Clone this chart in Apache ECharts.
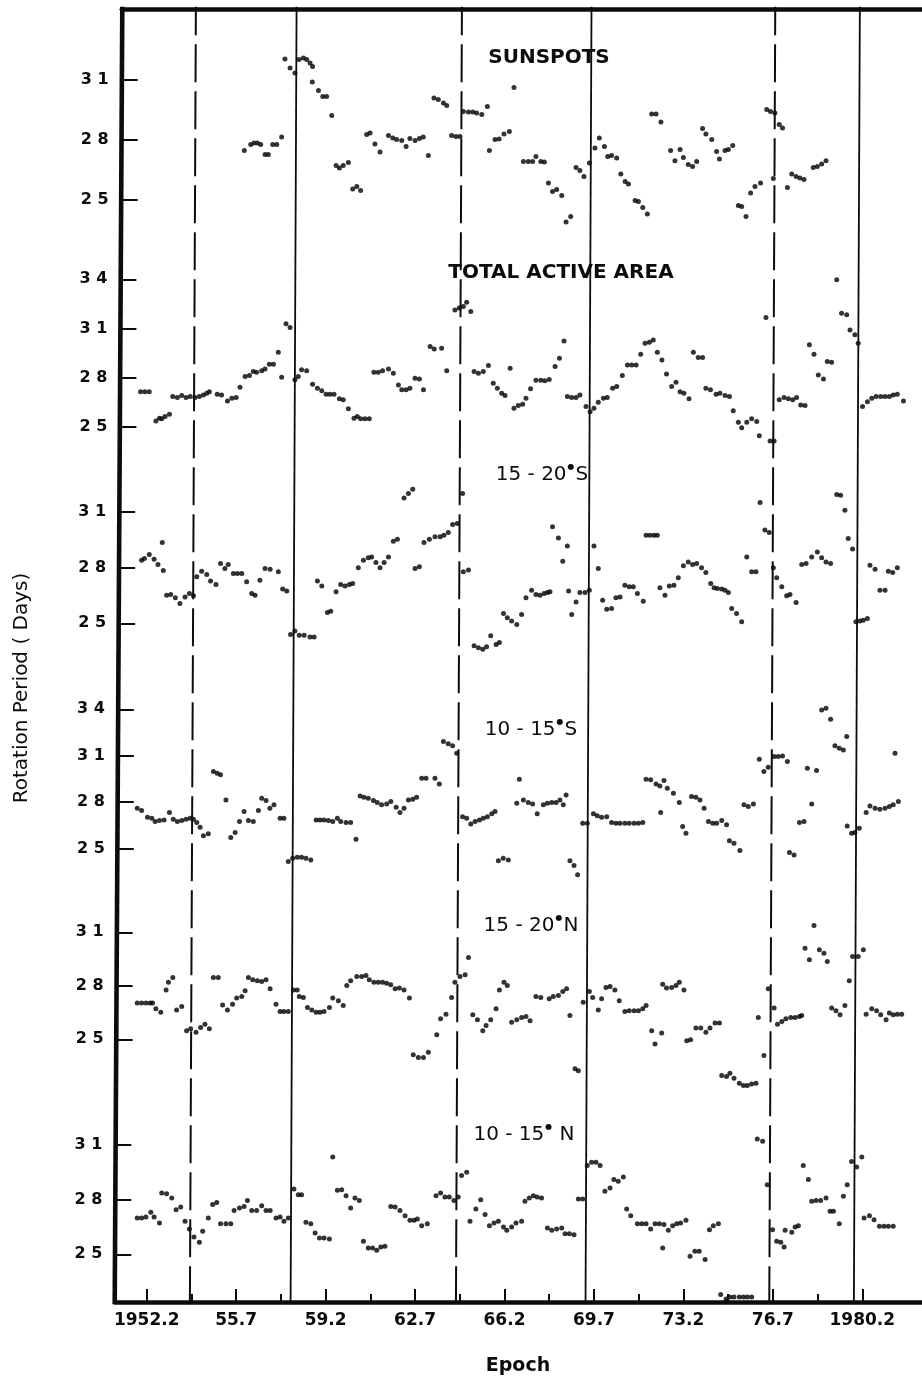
<!DOCTYPE html>
<html><head><meta charset="utf-8">
<script src="https://cdn.jsdelivr.net/npm/echarts@6/dist/echarts.min.js"></script>
<style>
html,body{margin:0;padding:0;overflow:hidden;background:#fff;width:922px;height:1379px}
#c{position:absolute;left:0;top:0;width:980px;height:1379px}
</style></head>
<body><div id="c"></div>
<script>
// ---------------- DATA (epoch year, rotation period in days) ----------------
const sunspots = [[1956.02,27.48],[1956.27,27.77],[1956.40,27.85],[1956.53,27.85],[1956.66,27.77],[1956.83,27.27],[1956.96,27.27],[1957.13,27.77],[1957.29,27.77],[1957.48,28.15],
[1957.61,32.05],[1957.81,31.60],[1958.00,31.35],[1958.16,32.02],[1958.33,32.10],[1958.46,32.02],[1958.59,31.85],[1958.69,31.68],[1958.68,30.90],[1958.92,30.47],[1959.09,30.18],[1959.24,30.18],[1959.44,29.22],
[1959.61,26.72],[1959.74,26.60],[1959.89,26.73],[1960.09,26.88],[1960.26,25.55],[1960.42,25.68],[1960.57,25.47],
[1960.81,28.27],[1960.94,28.35],[1961.13,27.80],[1961.33,27.40],[1961.66,28.23],[1961.83,28.10],[1961.98,28.02],[1962.18,27.97],[1962.35,27.68],[1962.50,28.07],[1962.70,27.97],[1962.87,28.07],[1963.02,28.15],[1963.22,27.23],
[1963.44,30.10],[1963.61,30.02],[1963.81,29.85],[1963.94,29.73],[1964.13,28.23],[1964.30,28.18],[1964.46,28.18],
[1964.59,29.43],[1964.79,29.40],[1964.96,29.40],[1965.11,29.35],[1965.31,29.27],[1965.53,29.67],
[1965.61,27.47],[1965.83,28.02],[1965.99,28.05],[1966.18,28.30],[1966.39,28.43],[1966.57,30.63],
[1966.94,26.93],[1967.13,26.93],[1967.30,26.93],[1967.43,27.18],[1967.62,26.93],[1967.76,26.90],
[1967.92,25.85],[1968.08,25.43],[1968.24,25.52],[1968.44,25.23],[1968.61,23.90],[1968.79,24.18],
[1969.00,26.63],[1969.15,26.47],[1969.31,26.18],[1969.52,26.85],[1969.74,27.60],[1969.91,28.10],[1970.11,27.68],[1970.24,27.18],[1970.39,27.23],[1970.59,27.10],[1970.75,26.30],[1970.92,25.93],[1971.05,25.80],[1971.31,24.97],[1971.44,24.93],[1971.61,24.63],[1971.79,24.30],
[1971.96,29.30],[1972.13,29.30],[1972.32,28.90],
[1972.70,27.47],[1972.87,26.96],[1973.07,27.52],[1973.20,27.13],[1973.39,26.77],[1973.56,26.68],[1973.72,26.93],
[1973.95,28.57],[1974.08,28.30],[1974.31,28.02],[1974.50,27.43],[1974.61,27.05],[1974.83,27.47],[1974.96,27.52],[1975.13,27.72],
[1975.35,24.73],[1975.48,24.68],[1975.65,24.18],[1975.83,25.35],[1976.00,25.68],[1976.22,25.85],
[1976.46,29.52],[1976.61,29.43],[1976.78,29.35],[1976.72,26.07],[1976.95,28.77],[1977.08,28.60],
[1977.27,25.63],[1977.44,26.30],[1977.61,26.18],[1977.76,26.10],[1977.92,26.02],
[1978.28,26.63],[1978.44,26.68],[1978.61,26.80],[1978.78,26.96]];

const totalActiveArea = [[1951.96,27.14],[1952.13,27.14],[1952.30,27.14],
[1952.56,25.35],[1952.70,25.52],[1952.79,25.48],[1952.92,25.62],[1953.09,25.76],
[1953.22,26.84],[1953.40,26.78],[1953.57,26.90],[1953.74,26.78],[1953.90,26.84],[1954.09,26.78],[1954.26,26.84],[1954.42,26.94],[1954.55,27.04],[1954.65,27.14],
[1954.96,26.98],[1955.13,26.94],[1955.36,26.57],[1955.53,26.74],[1955.70,26.78],[1955.85,27.41],
[1956.05,28.06],[1956.22,28.12],[1956.37,28.37],[1956.50,28.33],[1956.70,28.41],[1956.83,28.53],[1957.00,28.81],[1957.16,28.81],[1957.35,29.55],[1957.48,28.02],[1957.65,31.28],[1957.81,31.06],
[1958.00,27.86],[1958.13,28.06],[1958.26,28.47],[1958.46,28.41],
[1958.69,27.59],[1958.88,27.35],[1959.05,27.19],[1959.22,26.98],[1959.37,26.98],[1959.53,26.98],[1959.74,26.70],[1959.89,26.64],[1960.09,26.09],[1960.31,25.52],[1960.44,25.62],[1960.57,25.48],[1960.74,25.48],[1960.91,25.48],
[1961.09,28.33],[1961.26,28.33],[1961.43,28.41],[1961.66,28.53],[1961.85,28.27],[1962.05,27.55],[1962.18,27.25],[1962.35,27.25],[1962.50,27.35],[1962.70,27.96],[1962.87,27.92],[1963.03,27.25],
[1963.29,29.89],[1963.45,29.75],[1963.74,29.79],[1963.94,28.41],
[1964.26,32.13],[1964.43,32.24],[1964.59,32.34],[1964.72,32.60],[1964.88,32.03],
[1965.01,28.37],[1965.18,28.27],[1965.37,28.37],[1965.57,28.73],[1965.76,27.65],[1965.92,27.35],[1966.09,27.04],[1966.22,26.90],[1966.42,28.57],[1966.57,26.12],[1966.74,26.29],
[1966.91,26.37],[1967.04,26.74],[1967.22,27.31],[1967.43,27.84],[1967.62,27.84],[1967.78,27.80],[1967.95,27.88],
[1968.18,28.67],[1968.35,29.18],[1968.53,30.24],
[1968.66,26.84],[1968.83,26.78],[1969.00,26.78],[1969.15,26.94],
[1969.39,26.23],[1969.55,25.92],[1969.70,26.12],[1969.87,26.49],[1970.07,26.74],[1970.22,26.78],[1970.43,27.35],[1970.59,27.45],
[1970.81,28.12],[1971.01,28.77],[1971.18,28.77],[1971.35,28.77],[1971.53,29.43],[1971.70,30.10],[1971.87,30.16],[1972.02,30.30],
[1972.18,29.55],[1972.36,29.08],[1972.54,28.22],[1972.74,27.45],[1972.91,27.71],[1973.07,27.14],[1973.22,27.04],[1973.42,26.70],
[1973.59,29.55],[1973.78,29.22],[1973.95,29.22],
[1974.08,27.35],[1974.26,27.25],[1974.48,26.98],[1974.63,27.04],[1974.83,26.90],[1975.00,26.84],
[1975.15,25.98],[1975.35,25.27],[1975.48,24.94],[1975.68,25.27],[1975.87,25.48],[1976.07,25.31],[1976.17,24.44],[1976.59,24.13],[1976.75,24.13],
[1976.43,31.67],
[1976.95,26.64],[1977.14,26.78],[1977.31,26.70],[1977.48,26.64],[1977.63,26.78],[1977.79,26.33],[1977.96,26.29],
[1978.13,30.00],[1978.31,29.43],[1978.48,28.16],[1978.68,27.92],[1978.83,28.98],[1979.00,28.94],
[1979.20,33.97],[1979.39,31.93],[1979.59,31.83],[1979.72,30.91],[1979.91,30.61],[1980.04,30.10],
[1980.21,26.23],[1980.40,26.53],[1980.57,26.74],[1980.74,26.84],[1980.92,26.84],[1981.09,26.84],[1981.26,26.84],[1981.41,26.94],[1981.57,26.98],[1981.81,26.57]];

const lat15to20S = [[1952.00,28.39],[1952.11,28.48],[1952.30,28.70],[1952.49,28.45],[1952.64,28.16],[1952.85,27.84],[1952.81,29.34],
[1952.98,26.51],[1953.14,26.55],[1953.32,26.37],[1953.50,26.07],[1953.70,26.42],[1953.87,26.60],[1954.03,26.48],
[1954.16,27.50],[1954.35,27.80],[1954.55,27.62],[1954.70,27.27],[1954.91,27.09],
[1955.09,28.21],[1955.26,27.95],[1955.39,28.16],[1955.59,27.68],[1955.75,27.68],[1955.92,27.68],[1956.11,27.23],[1956.31,26.60],[1956.44,26.51],[1956.63,27.32],[1956.83,27.95],[1957.03,27.91],[1957.35,27.77],[1957.52,26.84],[1957.68,26.73],
[1957.83,24.40],[1958.00,24.58],[1958.17,24.36],[1958.36,24.36],[1958.59,24.27],[1958.75,24.27],
[1958.88,27.27],[1959.05,27.00],[1959.27,25.58],[1959.40,25.65],[1959.61,26.69],[1959.79,27.09],[1959.96,27.01],[1960.13,27.09],[1960.26,27.14],
[1960.48,27.98],[1960.68,28.39],[1960.87,28.52],[1961.00,28.57],[1961.17,28.27],[1961.33,27.98],[1961.49,28.27],[1961.66,28.57],[1961.85,29.41],[1962.01,29.52],
[1962.27,31.74],[1962.44,31.98],[1962.61,32.21],[1962.70,27.95],[1962.87,28.04],
[1963.05,29.34],[1963.26,29.52],[1963.48,29.65],[1963.68,29.65],[1963.83,29.74],[1964.00,29.88],[1964.17,30.31],[1964.35,30.36],
[1964.56,31.98],[1964.59,27.77],[1964.79,27.86],
[1965.01,23.79],[1965.18,23.68],[1965.35,23.61],[1965.50,23.74],[1965.66,24.33],[1965.87,23.86],[1966.00,23.97],[1966.16,25.53],[1966.31,25.30],[1966.48,25.12],[1966.68,24.94],
[1966.87,25.47],[1967.04,26.37],[1967.26,26.78],[1967.43,26.55],[1967.59,26.51],[1967.75,26.60],[1967.88,26.66],[1967.98,26.69],
[1968.08,30.19],[1968.31,29.59],[1968.48,28.34],[1968.66,29.16],[1968.71,26.73],[1968.83,25.47],[1969.00,26.15],[1969.15,26.66],[1969.35,26.66],[1969.52,26.78],
[1969.70,29.16],[1969.87,27.95],
[1970.04,26.24],[1970.20,25.76],[1970.39,25.79],[1970.56,26.37],[1970.72,26.42],[1970.91,27.05],[1971.08,26.96],[1971.24,26.96],[1971.40,26.60],[1971.63,26.19],
[1971.74,29.74],[1971.89,29.74],[1972.05,29.74],[1972.18,29.74],
[1972.28,26.91],[1972.48,26.51],[1972.65,27.01],[1972.83,27.05],[1973.00,27.45],[1973.20,28.09],[1973.39,28.30],[1973.56,28.16],[1973.72,28.21],[1973.91,27.98],[1974.08,27.73],
[1974.27,27.14],[1974.40,26.91],[1974.53,26.87],[1974.70,26.84],[1974.83,26.78],[1974.96,26.66],[1975.09,25.79],[1975.28,25.53],[1975.48,25.08],
[1975.68,28.57],[1975.87,27.77],[1976.04,27.77],
[1976.20,31.49],[1976.39,30.01],[1976.56,29.88],[1976.72,27.98],[1976.85,27.45],[1977.05,26.96],[1977.24,26.48],[1977.37,26.55],[1977.61,26.12],
[1977.83,28.16],[1978.00,28.21],[1978.22,28.57],[1978.44,28.84],[1978.61,28.52],[1978.78,28.30],[1978.96,28.21],
[1979.20,31.92],[1979.35,31.89],[1979.52,31.08],[1979.65,29.56],[1979.82,28.99],
[1979.95,25.08],[1980.11,25.12],[1980.24,25.17],[1980.40,25.26],
[1980.50,28.12],[1980.70,27.91],[1980.89,26.78],[1981.09,26.78],[1981.22,27.80],[1981.39,27.73],[1981.57,27.98]];

const lat10to15S = [[1951.83,27.61],[1952.00,27.46],[1952.23,27.03],[1952.40,26.97],[1952.53,26.75],[1952.70,26.82],[1952.88,26.86],[1953.09,27.33],[1953.24,26.90],[1953.40,26.75],[1953.57,26.82],[1953.74,26.90],[1953.90,26.97],[1954.03,26.90],[1954.16,26.69],[1954.29,26.38],[1954.42,25.83],[1954.61,25.96],
[1954.81,29.98],[1954.96,29.87],[1955.09,29.77],[1955.30,28.15],
[1955.49,25.72],[1955.66,26.04],[1955.83,26.75],[1956.01,27.40],[1956.18,26.82],[1956.37,26.75],[1956.57,27.46],[1956.70,28.26],[1956.87,28.11],[1957.02,27.61],[1957.18,27.83],[1957.42,26.97],[1957.57,26.97],
[1957.74,24.17],[1957.91,24.38],[1958.09,24.45],[1958.26,24.45],[1958.43,24.38],[1958.62,24.27],
[1958.83,26.86],[1958.98,26.86],[1959.14,26.86],[1959.31,26.82],[1959.48,26.75],[1959.66,26.97],[1959.79,26.75],[1960.00,26.69],[1960.18,26.69],
[1960.39,25.61],
[1960.55,28.41],[1960.70,28.32],[1960.87,28.26],[1961.07,28.11],[1961.22,27.98],[1961.39,27.83],[1961.59,27.89],[1961.75,28.04],[1961.96,27.68],[1962.11,27.33],[1962.27,27.61],[1962.44,28.15],[1962.61,28.19],[1962.76,28.32],
[1962.96,29.55],[1963.13,29.55],[1963.48,29.55],[1963.65,29.18],
[1963.81,31.92],[1964.00,31.77],[1964.17,31.64],[1964.33,31.17],
[1964.56,27.07],[1964.72,26.97],[1964.88,26.60],[1965.05,26.75],[1965.22,26.86],[1965.37,26.97],[1965.53,27.07],[1965.70,27.25],[1965.83,27.40],
[1965.96,24.23],[1966.15,24.38],[1966.35,24.27],
[1966.68,27.93],[1966.78,29.49],
[1966.94,28.15],[1967.13,27.98],[1967.30,27.89],[1967.48,27.25],[1967.72,27.83],[1967.88,27.94],[1968.05,27.98],[1968.22,27.98],[1968.37,28.15],[1968.50,27.83],[1968.61,28.47],
[1968.76,24.22],[1968.92,23.92],[1969.06,23.32],
[1969.26,26.64],[1969.44,26.64],[1969.68,27.25],[1969.83,27.12],[1970.00,27.03],[1970.20,27.07],[1970.39,26.69],[1970.56,26.64],[1970.72,26.64],[1970.91,26.64],[1971.08,26.64],[1971.27,26.64],[1971.44,26.64],[1971.61,26.69],
[1971.74,29.49],[1971.92,29.45],[1972.13,29.18],[1972.28,29.05],[1972.44,29.40],[1972.57,28.90],[1972.81,28.58],[1973.04,27.98],
[1972.31,27.33],[1973.17,26.43],[1973.30,26.00],
[1973.52,28.37],[1973.69,28.32],[1973.85,28.15],[1974.01,27.61],
[1974.18,26.75],[1974.35,26.64],[1974.50,26.64],[1974.70,26.82],[1974.89,26.54],
[1975.00,25.52],[1975.18,25.35],[1975.41,24.88],
[1975.57,27.83],[1975.74,27.72],[1975.94,27.89],
[1976.17,30.78],[1976.35,29.98],[1976.52,30.26],
[1976.75,30.95],[1976.91,30.95],[1977.08,30.99],[1977.27,30.63],
[1977.35,24.75],[1977.53,24.60],[1977.74,26.69],[1977.92,26.75],
[1978.05,30.20],[1978.22,27.89],[1978.41,30.05],
[1978.61,33.96],[1978.78,34.07],[1978.96,33.36],
[1979.13,31.64],[1979.30,31.49],[1979.46,31.38],[1979.59,32.24],
[1979.61,26.47],[1979.78,26.00],[1979.91,26.04],[1980.08,26.32],
[1980.35,27.33],[1980.50,27.76],[1980.70,27.61],[1980.89,27.55],[1981.09,27.61],[1981.26,27.72],[1981.41,27.83],[1981.61,28.04],
[1981.48,31.17]];

const lat15to20N = [[1951.83,27.03],[1952.00,27.03],[1952.17,27.03],[1952.33,27.03],[1952.43,27.03],[1952.56,26.71],[1952.75,26.52],
[1952.96,27.77],[1953.05,28.20],[1953.22,28.47],[1953.37,26.65],[1953.57,26.84],
[1953.76,25.48],[1953.92,25.59],[1954.13,25.40],[1954.31,25.66],[1954.48,25.85],[1954.65,25.59],
[1954.81,28.47],[1955.00,28.47],
[1955.17,26.93],[1955.36,26.65],[1955.56,26.97],[1955.72,27.31],[1955.92,27.40],[1956.05,27.72],
[1956.18,28.47],[1956.35,28.34],[1956.53,28.28],[1956.70,28.24],[1956.87,28.34],[1957.03,27.83],
[1957.26,26.97],[1957.42,26.56],[1957.57,26.56],[1957.74,26.56],
[1957.94,27.77],[1958.09,27.77],[1958.17,27.40],[1958.33,27.34],[1958.49,26.78],[1958.66,26.65],[1958.83,26.52],[1958.98,26.52],[1959.14,26.56],[1959.35,26.78],[1959.48,27.31],[1959.70,27.16],[1959.89,26.90],
[1960.03,28.02],[1960.18,28.28],[1960.42,28.52],[1960.61,28.52],[1960.78,28.58],[1960.91,28.34],[1961.09,28.20],[1961.26,28.20],[1961.43,28.20],[1961.59,28.15],[1961.75,28.06],[1961.92,27.83],[1962.09,27.87],[1962.27,27.77],[1962.48,27.31],
[1962.63,24.13],[1962.83,23.98],[1963.03,23.98],[1963.22,24.28],
[1963.55,25.25],[1963.70,26.15],[1963.91,26.41],[1964.13,27.35],[1964.26,28.20],[1964.46,28.52],[1964.66,28.62],[1964.79,29.59],
[1964.96,26.37],[1965.14,26.09],[1965.35,25.48],[1965.48,25.78],[1965.66,26.09],[1965.87,26.71],[1966.00,27.77],[1966.18,28.20],[1966.31,28.02],
[1966.48,25.96],[1966.68,26.09],[1966.87,26.22],[1967.04,26.28],[1967.20,26.04],
[1967.43,27.40],[1967.62,27.34],[1967.95,27.27],[1968.11,27.40],[1968.31,27.46],[1968.48,27.68],[1968.63,27.83],
[1968.76,26.33],[1968.96,23.35],[1969.09,23.23],
[1969.28,27.08],[1969.52,27.68],[1969.65,27.34],[1969.87,26.65],[1970.00,27.27],
[1970.17,27.91],[1970.33,27.96],[1970.52,27.77],[1970.69,27.16],[1970.91,26.56],[1971.08,26.60],[1971.27,26.60],[1971.44,26.60],[1971.61,26.71],[1971.74,26.90],
[1971.96,25.48],[1972.09,24.73],[1972.35,25.35],
[1972.39,28.09],[1972.54,27.87],[1972.74,27.91],[1972.91,28.02],[1973.04,28.20],[1973.22,27.77],
[1973.33,24.92],[1973.48,24.97],
[1973.69,25.63],[1973.88,25.63],[1974.08,25.40],[1974.24,25.63],[1974.44,25.91],[1974.61,25.91],
[1974.70,22.97],[1974.89,22.92],[1975.02,23.10],[1975.18,22.82],[1975.39,22.54],[1975.55,22.41],[1975.70,22.41],[1975.87,22.49],[1976.04,22.54],
[1976.13,26.22],[1976.35,24.09],[1976.52,27.83],[1976.75,26.75],
[1976.88,25.85],[1977.05,26.00],[1977.21,26.15],[1977.40,26.22],[1977.57,26.22],[1977.74,26.28],[1977.83,26.33],
[1977.96,30.11],[1978.13,29.46],[1978.31,31.38],[1978.52,30.02],[1978.70,29.83],[1978.83,29.36],
[1979.00,26.75],[1979.17,26.60],[1979.33,26.37],[1979.52,26.90],[1979.69,28.28],
[1979.82,29.64],[1980.04,29.64],[1980.24,30.02],
[1980.35,26.41],[1980.57,26.71],[1980.76,26.60],[1980.92,26.37],[1981.13,26.09],[1981.26,26.47],[1981.41,26.37],[1981.57,26.41],[1981.74,26.41]];

const lat10to15N = [[1951.83,26.99],[1952.00,26.99],[1952.17,27.05],[1952.36,27.31],[1952.49,27.05],[1952.70,26.72],
[1952.79,28.37],[1952.98,28.33],[1953.18,28.09],[1953.35,27.45],[1953.53,27.60],
[1953.70,26.81],[1953.87,26.39],[1954.05,25.95],[1954.26,25.66],[1954.39,26.26],
[1954.61,26.99],[1954.78,27.73],[1954.94,27.85],
[1955.09,26.68],[1955.30,26.68],[1955.49,26.68],
[1955.62,27.41],[1955.83,27.54],[1956.01,27.63],[1956.14,27.96],[1956.31,27.41],[1956.50,27.41],[1956.70,27.67],[1956.87,27.41],[1957.03,27.41],[1957.26,26.99],[1957.42,27.05],[1957.57,26.81],[1957.74,26.99],
[1957.96,28.59],[1958.13,28.27],[1958.26,28.27],
[1958.43,26.76],[1958.62,26.68],[1958.79,26.17],[1958.96,25.90],[1959.14,25.90],[1959.35,25.84],
[1959.48,30.34],
[1959.66,28.51],[1959.83,28.55],[1960.00,28.22],[1960.18,27.54],[1960.35,28.09],[1960.52,27.96],
[1960.68,25.71],[1960.87,25.35],[1961.04,25.35],[1961.20,25.22],[1961.36,25.40],[1961.52,25.44],
[1961.75,27.63],[1961.92,27.60],[1962.11,27.41],[1962.31,27.12],[1962.50,26.87],[1962.66,26.87],[1962.79,26.94],[1962.96,26.57],[1963.18,26.68],
[1963.52,28.22],[1963.70,28.37],[1963.87,28.15],[1964.04,28.15],[1964.22,27.96],[1964.39,28.15],
[1964.52,29.32],[1964.72,29.50],
[1964.85,26.81],[1965.08,27.49],[1965.27,28.00],[1965.44,27.18],[1965.61,26.57],[1965.79,26.72],[1965.96,26.81],[1966.16,26.50],[1966.29,26.32],[1966.48,26.50],[1966.65,26.72],
[1966.87,26.81],[1967.00,27.91],[1967.17,28.09],[1967.33,28.22],[1967.48,28.15],[1967.65,28.09],
[1967.88,26.45],[1968.05,26.32],[1968.24,26.39],[1968.44,26.45],[1968.57,26.13],[1968.74,26.13],[1968.92,26.08],
[1969.09,28.04],[1969.26,28.04],
[1969.44,29.87],[1969.61,30.05],[1969.78,30.05],[1969.94,29.87],
[1970.13,28.46],[1970.33,28.64],[1970.48,29.10],[1970.65,29.01],[1970.85,29.24],
[1970.98,27.49],[1971.14,27.12],
[1971.40,26.68],[1971.57,26.68],[1971.74,26.68],[1971.92,26.39],[1972.09,26.68],[1972.26,26.68],[1972.44,26.63],[1972.61,26.32],[1972.78,26.57],[1972.94,26.68],[1973.09,26.72],[1973.30,26.87],
[1972.39,25.35],
[1973.46,24.89],[1973.65,25.17],[1973.82,25.17],[1974.05,24.71],
[1974.22,26.35],[1974.37,26.57],[1974.57,26.68],
[1974.66,22.79],[1974.87,22.55],[1975.02,22.66],[1975.18,22.66],[1975.39,22.66],[1975.55,22.66],[1975.70,22.66],[1975.87,22.66],
[1976.09,31.33],[1976.30,31.20],[1976.48,28.82],
[1976.69,26.35],[1976.85,25.71],[1977.01,25.66],[1977.14,25.40],
[1977.18,26.32],[1977.44,26.21],[1977.57,26.50],[1977.70,26.57],
[1977.89,29.87],[1978.09,29.10],
[1978.22,27.91],[1978.39,27.96],[1978.57,27.96],[1978.78,28.09],[1978.94,27.36],[1979.07,27.36],
[1979.30,26.68],[1979.46,28.18],[1979.61,28.82],
[1979.78,30.10],[1979.98,29.79],[1980.18,30.34],
[1980.27,26.99],[1980.48,27.12],[1980.66,26.90],[1980.87,26.54],[1981.05,26.54],[1981.22,26.54],[1981.41,26.54]];

// axis ticks / labels
const majorYears  = [1952.2, 1955.7, 1959.2, 1962.7, 1966.2, 1969.7, 1973.2, 1976.7, 1980.2];
const majorLabels = ['1952.2', '55.7', '59.2', '62.7', '66.2', '69.7', '73.2', '76.7', '1980.2'];
const minorYears  = [1953.95, 1957.45, 1960.95, 1964.45, 1967.95, 1971.45, 1974.95, 1978.45];
const yTicks3 = [25, 28, 31];
const yTicks4 = [25, 28, 31, 34];
// epochs marked by vertical lines
const markerYears = [1953.89, 1957.83, 1964.30, 1969.37, 1976.56, 1979.87];
const markerKinds = ['dashed', 'solid', 'dashed', 'solid', 'dashed', 'solid'];
const panelTitles = ['SUNSPOTS', 'TOTAL ACTIVE AREA', '15 - 20', '10 - 15', '15 - 20', '10 - 15'];
const panelHemis  = ['', '', 'S', 'S', 'N', ' N'];

// ---------------- LAYOUT ----------------
const PX_PER_YEAR = 25.557, REF_YEAR = 1952.2, REF_PX = 146.7, RIGHT_PX = 960;
const yearAt = px => REF_YEAR + (px - REF_PX) / PX_PER_YEAR;
const INK = '#0c0c0c';
const FONT = 'DejaVu Sans';
const LEAN_PX = 6;          // scanned vertical lines lean slightly
const BORDER_BOTTOM_PX = 114.7, BORDER_TOP_PX = 122.3;
const FRAME_TOP = 6.8, FRAME_BOTTOM = 1304.2;

const panels = [
  {data: sunspots,        ticks: yTicks3, top: 9,    bottom: 255,  left: 121.7, a: [31, 80],    b: [25, 200],    tx: 549, ty: 57.5, bold: true},
  {data: totalActiveArea, ticks: yTicks4, top: 255,  bottom: 455,  left: 120.4, a: [34, 279.3], b: [25, 426.7],  tx: 561, ty: 273,  bold: true},
  {data: lat15to20S,      ticks: yTicks3, top: 455,  bottom: 680,  left: 119.1, a: [31, 511.7], b: [25, 623.3],  tx: 542, ty: 475},
  {data: lat10to15S,      ticks: yTicks4, top: 680,  bottom: 875,  left: 117.8, a: [34, 709.3], b: [25, 848.7],  tx: 531, ty: 730},
  {data: lat15to20N,      ticks: yTicks3, top: 875,  bottom: 1100, left: 116.6, a: [31, 932.3], b: [25, 1039.3], tx: 531, ty: 926},
  {data: lat10to15N,      ticks: yTicks3, top: 1100, bottom: 1302, left: 115.3, a: [31, 1145],  b: [25, 1254.3], tx: 524, ty: 1135}
];
const valAt = (p, px) => p.a[0] + (p.a[1] - px) * (p.a[0] - p.b[0]) / (p.b[1] - p.a[1]);

const grid = [], xAxis = [], yAxis = [], series = [], graphic = [];
panels.forEach((p, i) => {
  grid.push({left: p.left, top: p.top, width: RIGHT_PX - p.left, height: p.bottom - p.top});
  const isTop = i === 0, isBottom = i === panels.length - 1;
  xAxis.push({
    type: 'value', gridIndex: i, min: yearAt(p.left), max: yearAt(RIGHT_PX),
    position: isTop ? 'top' : 'bottom',
    show: isTop || isBottom,
    axisLine: {show: isTop || isBottom, onZero: false, lineStyle: {color: INK, width: 4.5}},
    axisTick: isBottom ? {show: true, inside: true, length: 13, lineStyle: {color: INK, width: 2}, customValues: majorYears} : {show: false},
    axisLabel: isBottom ? {show: true, customValues: majorYears, margin: 10, color: INK, fontFamily: FONT, fontWeight: 'bold', fontSize: 17,
      formatter: v => { const k = majorYears.findIndex(m => Math.abs(m - v) < 1e-6); return k >= 0 ? majorLabels[k] : ''; }} : {show: false},
    splitLine: {show: false}
  });
  yAxis.push({
    type: 'value', gridIndex: i, min: valAt(p, p.bottom), max: valAt(p, p.top),
    axisLine: {show: false},
    axisTick: {show: true, inside: true, length: 16, lineStyle: {color: INK, width: 2}, customValues: p.ticks},
    axisLabel: {show: true, customValues: p.ticks, margin: 13, color: INK, fontFamily: FONT, fontWeight: 'bold', fontSize: 16,
      formatter: v => String(v).split('').join(' ')},
    splitLine: {show: false}
  });
  series.push({
    type: 'scatter', xAxisIndex: i, yAxisIndex: i, data: p.data, symbol: 'circle', symbolSize: 5,
    itemStyle: {color: '#000'}, clip: false, silent: true, z: 3
  });
  const txt = panelHemis[i] === ''
    ? '{t|' + panelTitles[i] + '}'
    : '{t|' + panelTitles[i] + '}{d|\u25CF}{t|' + panelHemis[i] + '}';
  graphic.push({
    type: 'text', x: p.tx, y: p.ty, silent: true,
    style: {
      text: txt, textAlign: 'center', textVerticalAlign: 'middle',
      rich: {
        t: {fontFamily: FONT, fontSize: 20, fontWeight: p.bold ? 'bold' : 'normal', fill: INK, lineHeight: 24},
        d: {fontFamily: FONT, fontSize: 8, fill: INK, verticalAlign: 'top', lineHeight: 24, padding: [0, 1, 10, 1]}
      }
    }
  });
});

// minor ticks on the bottom axis
xAxis.push({
  type: 'value', gridIndex: panels.length - 1, position: 'bottom',
  min: yearAt(panels[5].left), max: yearAt(RIGHT_PX),
  axisLine: {show: false},
  axisTick: {show: true, inside: true, length: 8, lineStyle: {color: INK, width: 2}, customValues: minorYears},
  axisLabel: {show: false}, splitLine: {show: false}
});

// frame grid: left border and vertical epoch markers
const FG = grid.length, FRAME_LEFT = 100;
grid.push({left: FRAME_LEFT, top: FRAME_TOP, width: RIGHT_PX - FRAME_LEFT, height: FRAME_BOTTOM - FRAME_TOP});
xAxis.push({type: 'value', gridIndex: FG, min: yearAt(FRAME_LEFT), max: yearAt(RIGHT_PX), show: false, splitLine: {show: false}});
yAxis.push({type: 'value', gridIndex: FG, min: 0, max: 1, show: false, splitLine: {show: false}});
const frameLines = markerYears.map((yr, k) => [
  {coord: [yr, 0], lineStyle: {color: INK, width: markerKinds[k] === 'dashed' ? 2 : 1.8,
    type: markerKinds[k] === 'dashed' ? [38, 9] : 'solid'}},
  {coord: [yr + LEAN_PX / PX_PER_YEAR, 1]}
]);
frameLines.push([
  {coord: [yearAt(BORDER_BOTTOM_PX), 0], lineStyle: {color: INK, width: 4.6, type: 'solid'}},
  {coord: [yearAt(BORDER_TOP_PX), 1]}
]);
series.push({
  type: 'scatter', xAxisIndex: xAxis.length - 1, yAxisIndex: yAxis.length - 1, data: [], silent: true, z: 1, clip: false,
  markLine: {silent: true, symbol: ['none', 'none'], label: {show: false}, animation: false, data: frameLines}
});

graphic.push({
  type: 'text', x: 22, y: 688, rotation: Math.PI / 2, silent: true,
  style: {text: 'Rotation Period ( Days)', fill: INK, fontFamily: FONT, fontSize: 20, textAlign: 'center', textVerticalAlign: 'middle'}
});
graphic.push({
  type: 'text', x: 518, y: 1366, silent: true,
  style: {text: 'Epoch', fill: INK, fontFamily: FONT, fontWeight: 'bold', fontSize: 19, textAlign: 'center', textVerticalAlign: 'middle'}
});

const chart = echarts.init(document.getElementById('c'), null, {renderer: 'canvas'});
chart.setOption({
  backgroundColor: '#fff', animation: false,
  grid, xAxis, yAxis, series, graphic
});
</script></body></html>
